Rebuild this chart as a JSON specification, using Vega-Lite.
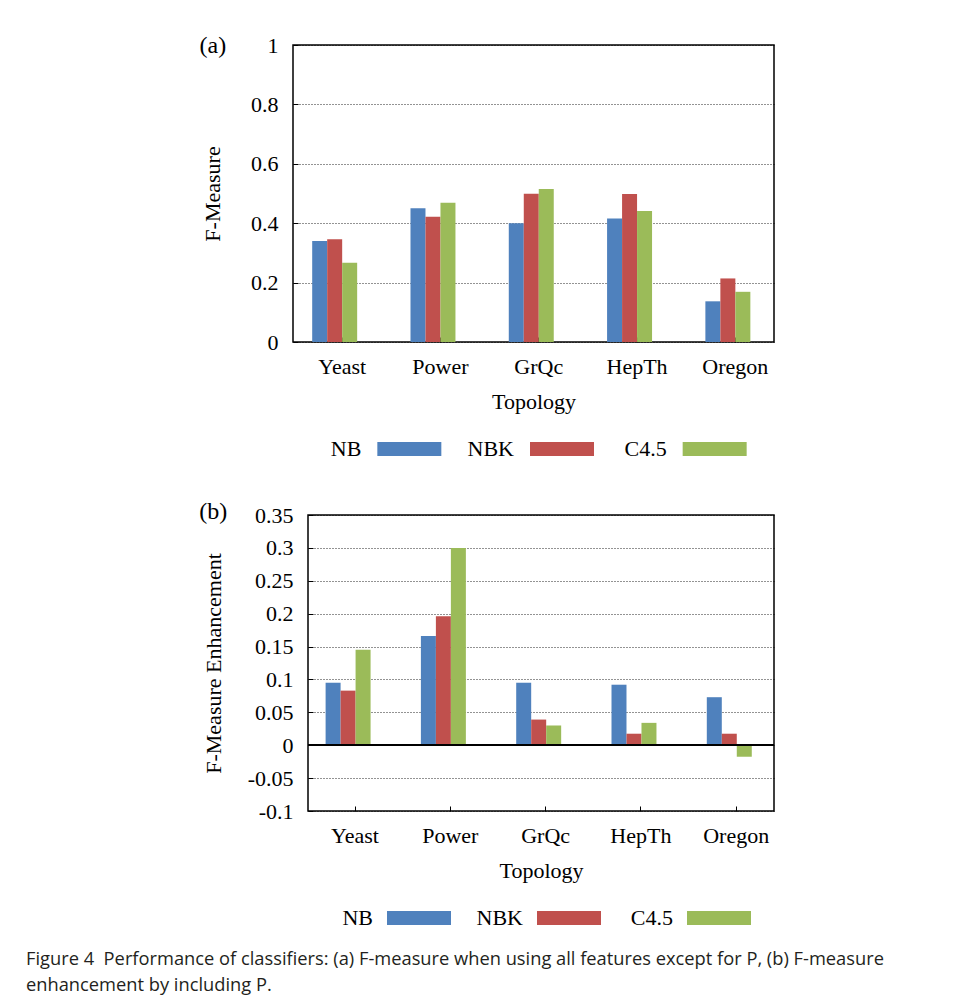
{
  "$schema": "https://vega.github.io/schema/vega-lite/v6.json",
  "padding": {"left": 26, "top": 33, "right": 5, "bottom": 8},
  "background": "white",
  "datasets": {
    "a": [
      {"t": "Yeast", "c": "NB", "v": 0.34}, {"t": "Yeast", "c": "NBK", "v": 0.346}, {"t": "Yeast", "c": "C4.5", "v": 0.267},
      {"t": "Power", "c": "NB", "v": 0.45}, {"t": "Power", "c": "NBK", "v": 0.422}, {"t": "Power", "c": "C4.5", "v": 0.469},
      {"t": "GrQc", "c": "NB", "v": 0.40}, {"t": "GrQc", "c": "NBK", "v": 0.499}, {"t": "GrQc", "c": "C4.5", "v": 0.515},
      {"t": "HepTh", "c": "NB", "v": 0.416}, {"t": "HepTh", "c": "NBK", "v": 0.498}, {"t": "HepTh", "c": "C4.5", "v": 0.441},
      {"t": "Oregon", "c": "NB", "v": 0.137}, {"t": "Oregon", "c": "NBK", "v": 0.214}, {"t": "Oregon", "c": "C4.5", "v": 0.169}
    ],
    "b": [
      {"t": "Yeast", "c": "NB", "v": 0.095}, {"t": "Yeast", "c": "NBK", "v": 0.083}, {"t": "Yeast", "c": "C4.5", "v": 0.145},
      {"t": "Power", "c": "NB", "v": 0.166}, {"t": "Power", "c": "NBK", "v": 0.196}, {"t": "Power", "c": "C4.5", "v": 0.300},
      {"t": "GrQc", "c": "NB", "v": 0.095}, {"t": "GrQc", "c": "NBK", "v": 0.039}, {"t": "GrQc", "c": "C4.5", "v": 0.030},
      {"t": "HepTh", "c": "NB", "v": 0.092}, {"t": "HepTh", "c": "NBK", "v": 0.0175}, {"t": "HepTh", "c": "C4.5", "v": 0.034},
      {"t": "Oregon", "c": "NB", "v": 0.073}, {"t": "Oregon", "c": "NBK", "v": 0.0175}, {"t": "Oregon", "c": "C4.5", "v": -0.0175}
    ],
    "leg": [{"k": "NB"}, {"k": "NBK"}, {"k": "C4.5"}],
    "none": [{}]
  },
  "title": {
    "text": ["Figure 4\u00a0\u00a0Performance of classifiers: (a) F-measure when using all features except for P, (b) F-measure", "enhancement by including P."],
    "orient": "bottom", "anchor": "start", "frame": "group", "dx": -171, "offset": 22,
    "font": "Open Sans", "fontSize": 18.3, "fontWeight": "normal", "lineHeight": 26, "color": "#231f20"
  },
  "concat": [
    {
      "hconcat": [
        {
          "width": 1, "height": 1,
          "data": {"name": "none"},
          "view": {"stroke": null},
          "mark": {"type": "point", "size": 0, "opacity": 0}
        },
        {
          "concat": [
            {
              "width": 481, "height": 297,
              "data": {"name": "a"},
              "title": {"text": "(a)", "anchor": "start", "frame": "bounds", "offset": -24, "dx": -2, "font": "Liberation Serif", "fontSize": 24, "fontWeight": "normal", "color": "#000"},
              "mark": {"type": "bar"},
              "encoding": {
                "x": {"field": "t", "type": "nominal", "scale": {"domain": ["Yeast", "Power", "GrQc", "HepTh", "Oregon"], "paddingInner": 0.39, "paddingOuter": 0.1417, "align": 0.689}, "axis": {"orient": "bottom", "title": "Topology", "labelAngle": 0, "labelPadding": 19, "titlePadding": 14, "grid": false}},
                "xOffset": {"field": "c", "type": "nominal", "scale": {"domain": ["NB", "NBK", "C4.5", "_"], "paddingInner": 0, "paddingOuter": 0}},
                "y": {"field": "v", "type": "quantitative", "scale": {"domain": [0, 1], "nice": false}, "axis": {"orient": "left", "title": "F-Measure", "values": [0, 0.2, 0.4, 0.6, 0.8, 1], "format": "~g", "grid": true, "labelOverlap": false, "labelPadding": 20, "titlePadding": 26}},
                "color": {"field": "c", "type": "nominal", "scale": {"domain": ["NB", "NBK", "C4.5"], "range": ["#4F81BD", "#C0504D", "#9BBB59"]}, "legend": null}
              }
            },
            {
              "width": 458, "height": 20,
              "data": {"name": "leg"},
              "view": {"stroke": null},
              "layer": [
                {
                  "mark": {"type": "text", "align": "right", "baseline": "middle", "dx": -8, "font": "Liberation Serif", "fontSize": 22, "color": "#000"},
                  "encoding": {
                    "x": {"field": "k", "type": "nominal", "scale": {"domain": ["NB", "NBK", "C4.5"], "paddingInner": 0, "paddingOuter": 0.0267}, "axis": null},
                    "text": {"field": "k"}
                  }
                },
                {
                  "mark": {"type": "point", "shape": "M0.25,-0.22H2.25V0.22H0.25Z", "size": 4096, "filled": true, "opacity": 1, "strokeWidth": 0},
                  "encoding": {
                    "x": {"field": "k", "type": "nominal", "scale": {"domain": ["NB", "NBK", "C4.5"], "paddingInner": 0, "paddingOuter": 0.0267}, "axis": null},
                    "color": {"field": "k", "type": "nominal", "scale": {"domain": ["NB", "NBK", "C4.5"], "range": ["#4F81BD", "#C0504D", "#9BBB59"]}, "legend": null}
                  }
                }
              ]
            }
          ],
          "columns": 1,
          "align": "each",
          "spacing": 25
        }
      ],
      "spacing": 0
    },
    {
      "hconcat": [
        {
          "width": 1, "height": 1,
          "data": {"name": "none"},
          "view": {"stroke": null},
          "mark": {"type": "point", "size": 0, "opacity": 0}
        },
        {
          "concat": [
            {
              "width": 466, "height": 296,
              "data": {"name": "b"},
              "title": {"text": "(b)", "anchor": "start", "frame": "bounds", "offset": -20, "dx": -3, "font": "Liberation Serif", "fontSize": 24, "fontWeight": "normal", "color": "#000"},
              "layer": [
                {
                  "mark": {"type": "bar"},
                  "encoding": {
                    "x": {"field": "t", "type": "nominal", "scale": {"domain": ["Yeast", "Power", "GrQc", "HepTh", "Oregon"], "paddingInner": 0.383, "paddingOuter": 0.1364, "align": 0.677}, "axis": {"orient": "bottom", "title": "Topology", "labelAngle": 0, "labelPadding": 19, "titlePadding": 14, "grid": false}},
                    "xOffset": {"field": "c", "type": "nominal", "scale": {"domain": ["NB", "NBK", "C4.5", "_"], "paddingInner": 0, "paddingOuter": 0}},
                    "y": {"field": "v", "type": "quantitative", "scale": {"domain": [-0.1, 0.35], "nice": false}, "axis": {"orient": "left", "title": "F-Measure Enhancement", "values": [-0.1, -0.05, 0, 0.05, 0.1, 0.15, 0.2, 0.25, 0.3, 0.35], "labelExpr": "datum.value < 0 ? '-' + format(-datum.value, '~g') : format(datum.value, '~g')", "grid": true, "labelOverlap": false, "labelPadding": 20, "titlePadding": 22}},
                    "color": {"field": "c", "type": "nominal", "scale": {"domain": ["NB", "NBK", "C4.5"], "range": ["#4F81BD", "#C0504D", "#9BBB59"]}, "legend": null}
                  }
                },
                {
                  "mark": {"type": "rule", "color": "#000", "strokeWidth": 1.5},
                  "encoding": {"y": {"datum": 0, "type": "quantitative", "scale": {"domain": [-0.1, 0.35], "nice": false}, "axis": {"orient": "left", "title": "F-Measure Enhancement", "values": [-0.1, -0.05, 0, 0.05, 0.1, 0.15, 0.2, 0.25, 0.3, 0.35], "labelExpr": "datum.value < 0 ? '-' + format(-datum.value, '~g') : format(datum.value, '~g')", "grid": true, "labelOverlap": false, "labelPadding": 20, "titlePadding": 22}}}
                }
              ]
            },
            {
              "width": 450, "height": 20,
              "data": {"name": "leg"},
              "view": {"stroke": null},
              "layer": [
                {
                  "mark": {"type": "text", "align": "right", "baseline": "middle", "dx": -10, "font": "Liberation Serif", "fontSize": 22, "color": "#000"},
                  "encoding": {
                    "x": {"field": "k", "type": "nominal", "scale": {"domain": ["NB", "NBK", "C4.5"], "paddingInner": 0, "paddingOuter": 0}, "axis": null},
                    "text": {"field": "k"}
                  }
                },
                {
                  "mark": {"type": "point", "shape": "M0.125,-0.22H2.125V0.22H0.125Z", "size": 4096, "filled": true, "opacity": 1, "strokeWidth": 0},
                  "encoding": {
                    "x": {"field": "k", "type": "nominal", "scale": {"domain": ["NB", "NBK", "C4.5"], "paddingInner": 0, "paddingOuter": 0}, "axis": null},
                    "color": {"field": "k", "type": "nominal", "scale": {"domain": ["NB", "NBK", "C4.5"], "range": ["#4F81BD", "#C0504D", "#9BBB59"]}, "legend": null}
                  }
                }
              ]
            }
          ],
          "columns": 1,
          "align": "each",
          "spacing": 25
        }
      ],
      "spacing": 0
    }
  ],
  "columns": 1,
  "align": "none",
  "spacing": 39,
  "config": {
    "font": "Liberation Serif",
    "view": {"stroke": "#000", "strokeWidth": 1.5},
    "axis": {
      "labelFont": "Liberation Serif", "labelFontSize": 22, "labelColor": "#000",
      "titleFont": "Liberation Serif", "titleFontSize": 22, "titleFontWeight": "normal", "titleColor": "#000",
      "tickColor": "#000", "tickSize": -5, "domain": false,
      "gridColor": "#000", "gridDash": [1, 2], "gridWidth": 1, "gridOpacity": 0.85
    }
  }
}
